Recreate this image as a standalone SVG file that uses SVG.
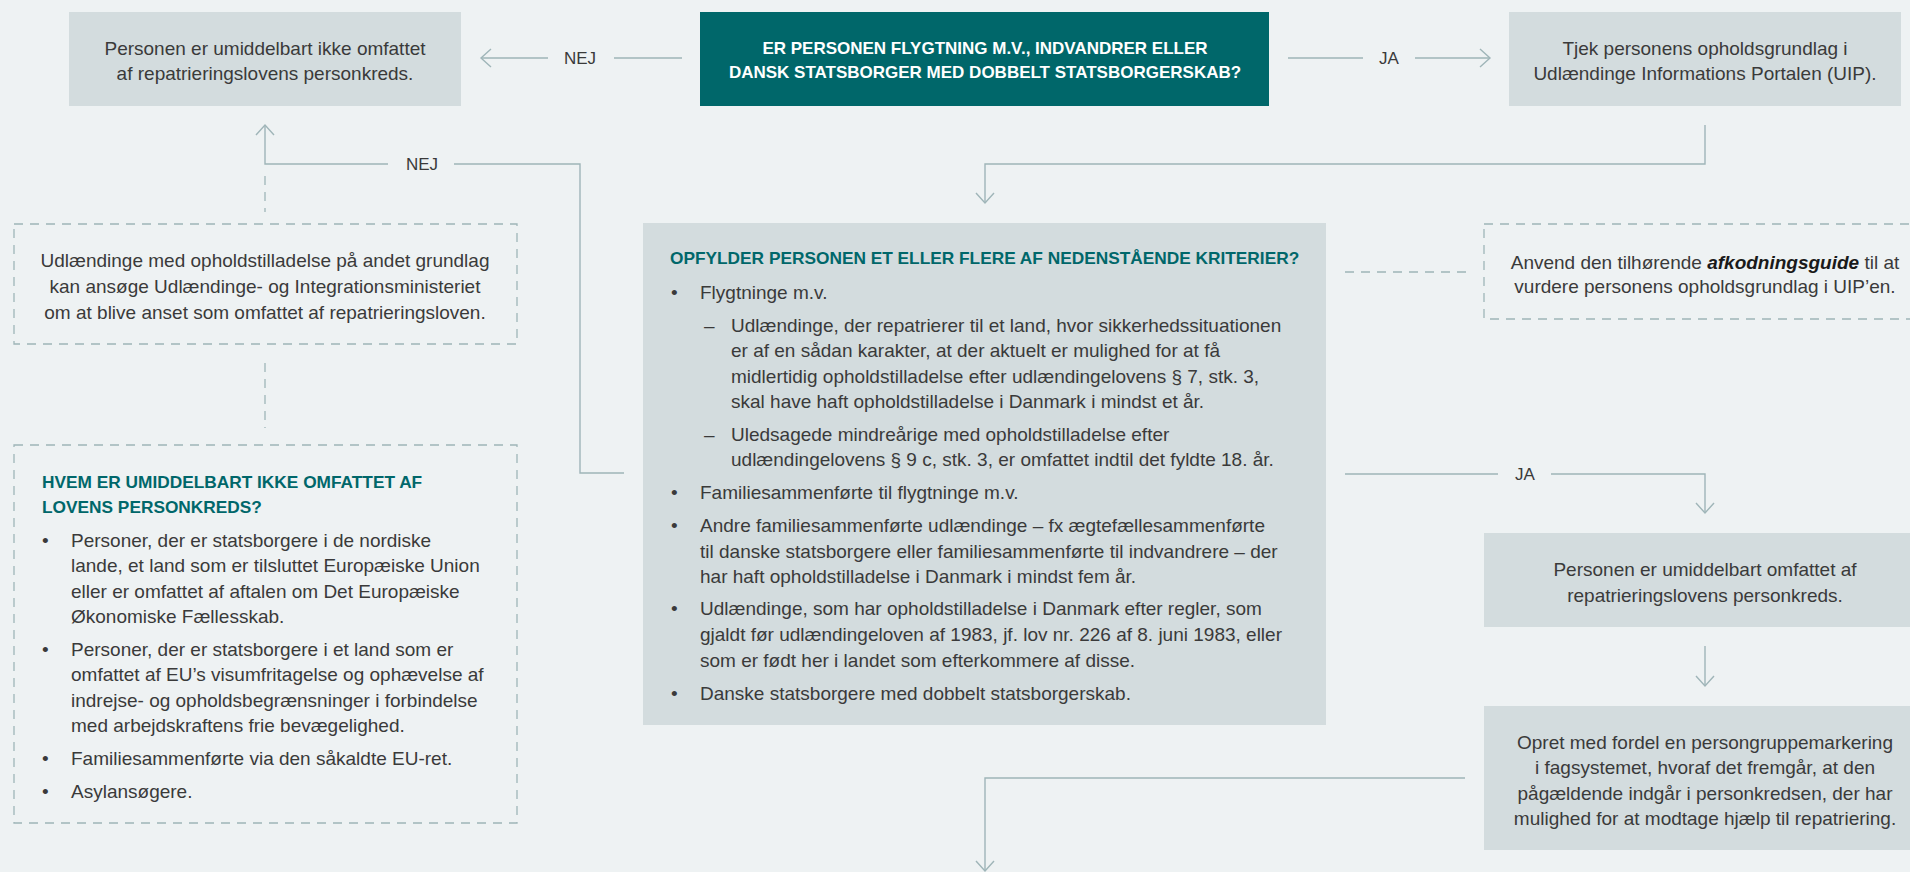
<svg xmlns="http://www.w3.org/2000/svg" width="1910" height="872" viewBox="0 0 1910 872">
<style>
text{font-family:"Liberation Sans",Arial,sans-serif;font-size:19px;fill:#3a3a3a}
.c{text-anchor:middle}
.lbl{font-size:17px}
.w{fill:#ffffff;font-weight:bold;font-size:17px}
.h{fill:#00676a;font-weight:bold;font-size:17.3px}
.box{fill:#d3dcde}
.teal{fill:#00676a}
.dbox{fill:none;stroke:#9fb5b8;stroke-width:1.3;stroke-dasharray:9 7}
.ln{fill:none;stroke:#9fb5b8;stroke-width:1.4}
.dl{fill:none;stroke:#9fb5b8;stroke-width:1.3;stroke-dasharray:9 7}
</style>
<rect width="1910" height="872" fill="#eef2f3"/>

<g id="connectors">
  <path class="ln" d="M682 58H614M548 58H481"/>
  <path class="ln" d="M491 49L481 58L491 67"/>
  <text class="c lbl" x="580" y="64">NEJ</text>
  <path class="ln" d="M1288 58H1363M1415 58H1490"/>
  <path class="ln" d="M1480 49L1490 58L1480 67"/>
  <text class="c lbl" x="1389" y="64">JA</text>
  <path class="ln" d="M1705 125V164H985V203"/>
  <path class="ln" d="M976 193L985 203L994 193"/>
  <path class="ln" d="M624 473H580V164H454M388 164H265V126"/>
  <path class="ln" d="M256 135L265 125L274 135"/>
  <text class="c lbl" x="422" y="170">NEJ</text>
  <path class="dl" d="M265 176V212"/>
  <path class="dl" d="M265 363V428"/>
  <path class="dl" d="M1345 272H1466"/>
  <path class="ln" d="M1345 474H1498M1551 474H1705V513"/>
  <path class="ln" d="M1696 503L1705 513L1714 503"/>
  <text class="c lbl" x="1525" y="480">JA</text>
  <path class="ln" d="M1705 646V686"/>
  <path class="ln" d="M1696 676L1705 686L1714 676"/>
  <path class="ln" d="M1465 778H985V871"/>
  <path class="ln" d="M976 861L985 871L994 861"/>
</g>

<g id="node-ikke-omfattet">
  <rect class="box" x="69" y="12" width="392" height="94"/>
  <text class="c" x="265" y="55">Personen er umiddelbart ikke omfattet</text>
  <text class="c" x="265" y="80">af repatrieringslovens personkreds.</text>
</g>

<g id="node-spoergsmaal">
  <rect class="teal" x="700" y="12" width="569" height="94"/>
  <text class="c w" x="985" y="54">ER PERSONEN FLYGTNING M.V., INDVANDRER ELLER</text>
  <text class="c w" x="985" y="78">DANSK STATSBORGER MED DOBBELT STATSBORGERSKAB?</text>
</g>

<g id="node-uip">
  <rect class="box" x="1509" y="12" width="392" height="94"/>
  <text class="c" x="1705" y="55">Tjek personens opholdsgrundlag i</text>
  <text class="c" x="1705" y="80">Udlændinge Informations Portalen (UIP).</text>
</g>

<g id="node-andet-grundlag">
  <rect class="dbox" x="14" y="224" width="503" height="120"/>
  <text class="c" x="265" y="267">Udlændinge med opholdstilladelse på andet grundlag</text>
  <text class="c" x="265" y="293">kan ansøge Udlændinge- og Integrationsministeriet</text>
  <text class="c" x="265" y="319">om at blive anset som omfattet af repatrieringsloven.</text>
</g>

<g id="node-hvem">
  <rect class="dbox" x="14" y="445" width="503" height="378"/>
  <text class="h" x="42" y="488">HVEM ER UMIDDELBART IKKE OMFATTET AF</text>
  <text class="h" x="42" y="513">LOVENS PERSONKREDS?</text>
  <text x="42" y="547">•</text>
  <text x="71" y="547">Personer, der er statsborgere i de nordiske</text>
  <text x="71" y="572">lande, et land som er tilsluttet Europæiske Union</text>
  <text x="71" y="598">eller er omfattet af aftalen om Det Europæiske</text>
  <text x="71" y="623">Økonomiske Fællesskab.</text>
  <text x="42" y="656">•</text>
  <text x="71" y="656">Personer, der er statsborgere i et land som er</text>
  <text x="71" y="681">omfattet af EU’s visumfritagelse og ophævelse af</text>
  <text x="71" y="707">indrejse- og opholdsbegrænsninger i forbindelse</text>
  <text x="71" y="732">med arbejdskraftens frie bevægelighed.</text>
  <text x="42" y="765">•</text>
  <text x="71" y="765">Familiesammenførte via den såkaldte EU-ret.</text>
  <text x="42" y="798">•</text>
  <text x="71" y="798">Asylansøgere.</text>
</g>

<g id="node-kriterier">
  <rect class="box" x="643" y="223" width="683" height="502"/>
  <text class="h" x="670" y="264">OPFYLDER PERSONEN ET ELLER FLERE AF NEDENSTÅENDE KRITERIER?</text>
  <text x="671" y="299">•</text>
  <text x="700" y="299">Flygtninge m.v.</text>
  <text x="704" y="332">–</text>
  <text x="731" y="332">Udlændinge, der repatrierer til et land, hvor sikkerhedssituationen</text>
  <text x="731" y="357">er af en sådan karakter, at der aktuelt er mulighed for at få</text>
  <text x="731" y="383">midlertidig opholdstilladelse efter udlændingelovens § 7, stk. 3,</text>
  <text x="731" y="408">skal have haft opholdstilladelse i Danmark i mindst et år.</text>
  <text x="704" y="441">–</text>
  <text x="731" y="441">Uledsagede mindreårige med opholdstilladelse efter</text>
  <text x="731" y="466">udlændingelovens § 9 c, stk. 3, er omfattet indtil det fyldte 18. år.</text>
  <text x="671" y="499">•</text>
  <text x="700" y="499">Familiesammenførte til flygtninge m.v.</text>
  <text x="671" y="532">•</text>
  <text x="700" y="532">Andre familiesammenførte udlændinge – fx ægtefællesammenførte</text>
  <text x="700" y="558">til danske statsborgere eller familiesammenførte til indvandrere – der</text>
  <text x="700" y="583">har haft opholdstilladelse i Danmark i mindst fem år.</text>
  <text x="671" y="615">•</text>
  <text x="700" y="615">Udlændinge, som har opholdstilladelse i Danmark efter regler, som</text>
  <text x="700" y="641">gjaldt før udlændingeloven af 1983, jf. lov nr. 226 af 8. juni 1983, eller</text>
  <text x="700" y="667">som er født her i landet som efterkommere af disse.</text>
  <text x="671" y="700">•</text>
  <text x="700" y="700">Danske statsborgere med dobbelt statsborgerskab.</text>
</g>

<g id="node-afkodningsguide">
  <rect class="dbox" x="1484" y="224" width="440" height="95"/>
  <text class="c" x="1705" y="269">Anvend den tilhørende <tspan font-weight="bold" font-style="italic" fill="#1a1a1a">afkodningsguide</tspan> til at</text>
  <text class="c" x="1705" y="293">vurdere personens opholdsgrundlag i UIP’en.</text>
</g>

<g id="node-omfattet">
  <rect class="box" x="1484" y="533" width="440" height="94"/>
  <text class="c" x="1705" y="576">Personen er umiddelbart omfattet af</text>
  <text class="c" x="1705" y="602">repatrieringslovens personkreds.</text>
</g>

<g id="node-opret">
  <rect class="box" x="1484" y="706" width="440" height="144"/>
  <text class="c" x="1705" y="749">Opret med fordel en persongruppemarkering</text>
  <text class="c" x="1705" y="774">i fagsystemet, hvoraf det fremgår, at den</text>
  <text class="c" x="1705" y="800">pågældende indgår i personkredsen, der har</text>
  <text class="c" x="1705" y="825">mulighed for at modtage hjælp til repatriering.</text>
</g>
</svg>
